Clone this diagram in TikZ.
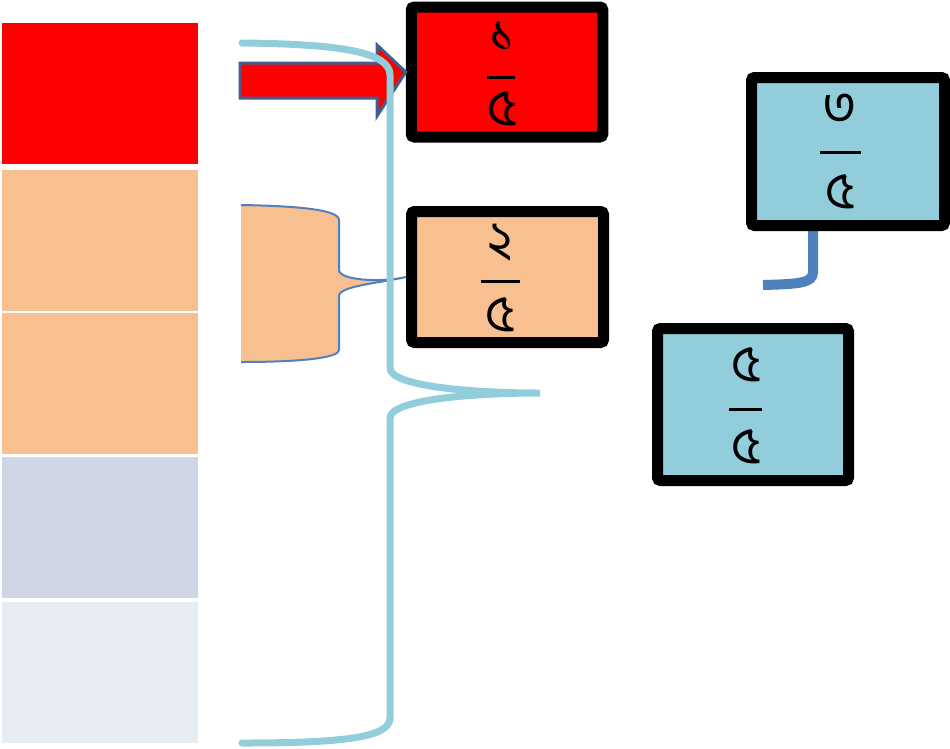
\documentclass[tikz,border=0pt]{standalone}
\usepackage{fontspec}
\usetikzlibrary{backgrounds}
\newfontfamily\bnfont[Script=Bengali]{Hind Siliguri}
\definecolor{cred}{HTML}{FF0000}
\definecolor{cpeach}{HTML}{F8C090}
\definecolor{cgray}{HTML}{CFD7E6}
\definecolor{clight}{HTML}{E6EBF4}
\definecolor{cblue}{HTML}{92CDDC}
\definecolor{cline}{HTML}{4F81BD}
\definecolor{carrow}{HTML}{3F5F8F}
\tikzset{
  fracbox/.style={draw=black, line width=11pt, rounded corners=3pt, inner sep=0pt},
  digit/.style={font=\bnfont\fontsize{52}{56}\selectfont, inner sep=0pt, anchor=center},
  fbar/.style={draw=black, line width=3pt},
  colblock/.style={inner sep=0pt, minimum width=196pt, minimum height=141pt},
}
\begin{document}
\begin{tikzpicture}[x=1pt,y=-1pt]
\useasboundingbox (0,0) rectangle (950,748);
% left column
\node[colblock, fill=cred]   (r1) at (100,93.5) {};
\node[colblock, fill=cpeach] (r2) at (100,240.5) {};
\node[colblock, fill=cpeach] (r3) at (100,383.5) {};
\node[colblock, fill=cgray]  (r4) at (100,527.5) {};
\node[colblock, fill=clight] (r5) at (100,672) {};
% boxes
\node[fracbox, fill=cred,   minimum width=191.5pt, minimum height=130pt] (b1) at (507,72) {};
\node[fracbox, fill=cpeach, minimum width=192pt,   minimum height=131pt] (b2) at (507.5,277) {};
\node[fracbox, fill=cblue,  minimum width=193pt,   minimum height=148pt] (b3) at (848,151.5) {};
\node[fracbox, fill=cblue,  minimum width=191pt,   minimum height=152pt] (b4) at (753,404.5) {};
% peach brace
\filldraw[fill=cpeach, draw=none] (241,205) .. controls (300,206) and (339,210) .. (339,220) -- (339,270)
  .. controls (339,280) and (380,283) .. (b2.west) .. controls (380,283) and (339,286) .. (339,296)
  -- (339,350) .. controls (339,358) and (300,362) .. (241,362) -- cycle;
\draw[draw=cline, line width=2pt] (241,205) .. controls (300,206) and (339,210) .. (339,220) -- (339,270)
  .. controls (339,280) and (380,283) .. (b2.west) .. controls (380,283) and (339,286) .. (339,296)
  -- (339,350) .. controls (339,358) and (300,362) .. (241,362);
% block arrow
\coordinate (atip) at (b1.west);
\filldraw[fill=cred, draw=carrow, line width=3pt, line join=miter]
  (240,63) -- (377,63) -- (377,45) -- (atip) -- (377,116) -- (377,98) -- (240,98) -- cycle;
% large light blue brace
\coordinate (btip) at (540,393);
\draw[draw=cblue, line width=7pt, line cap=round]
  (242,43) .. controls (340,44) and (390,52) .. (390,75) -- (390,368)
  .. controls (390,386) and (470,393) .. (btip) .. controls (470,393) and (390,400) .. (390,418)
  -- (390,718) .. controls (390,738) and (340,743) .. (242,743);
% connector below box 3
\coordinate (cx) at (813,0);
\coordinate (cend) at (763,285);
\begin{pgfonlayer}{background}
\draw[draw=cline, line width=10pt] (b3.south -| cx) -- (813,272) .. controls (813,283) and (800,284) .. (cend);
\end{pgfonlayer}
% fractions
\node[digit] (n1) at (502,37) {১};
\node[digit] (d1) at (502,109) {৫};
\draw[fbar] (487,77) -- (515,77);
\node[digit] (n2) at (500,243) {২};
\node[digit] (d2) at (500,315) {৫};
\draw[fbar] (481,281) -- (520,281);
\node[digit] (n3) at (840,109) {৩};
\node[digit] (d3) at (840,192) {৫};
\draw[fbar] (820,152) -- (861,152);
\node[digit] (n4) at (746,365) {৫};
\node[digit] (d4) at (746,447) {৫};
\draw[fbar] (729,409) -- (762,409);
\end{tikzpicture}
\end{document}
